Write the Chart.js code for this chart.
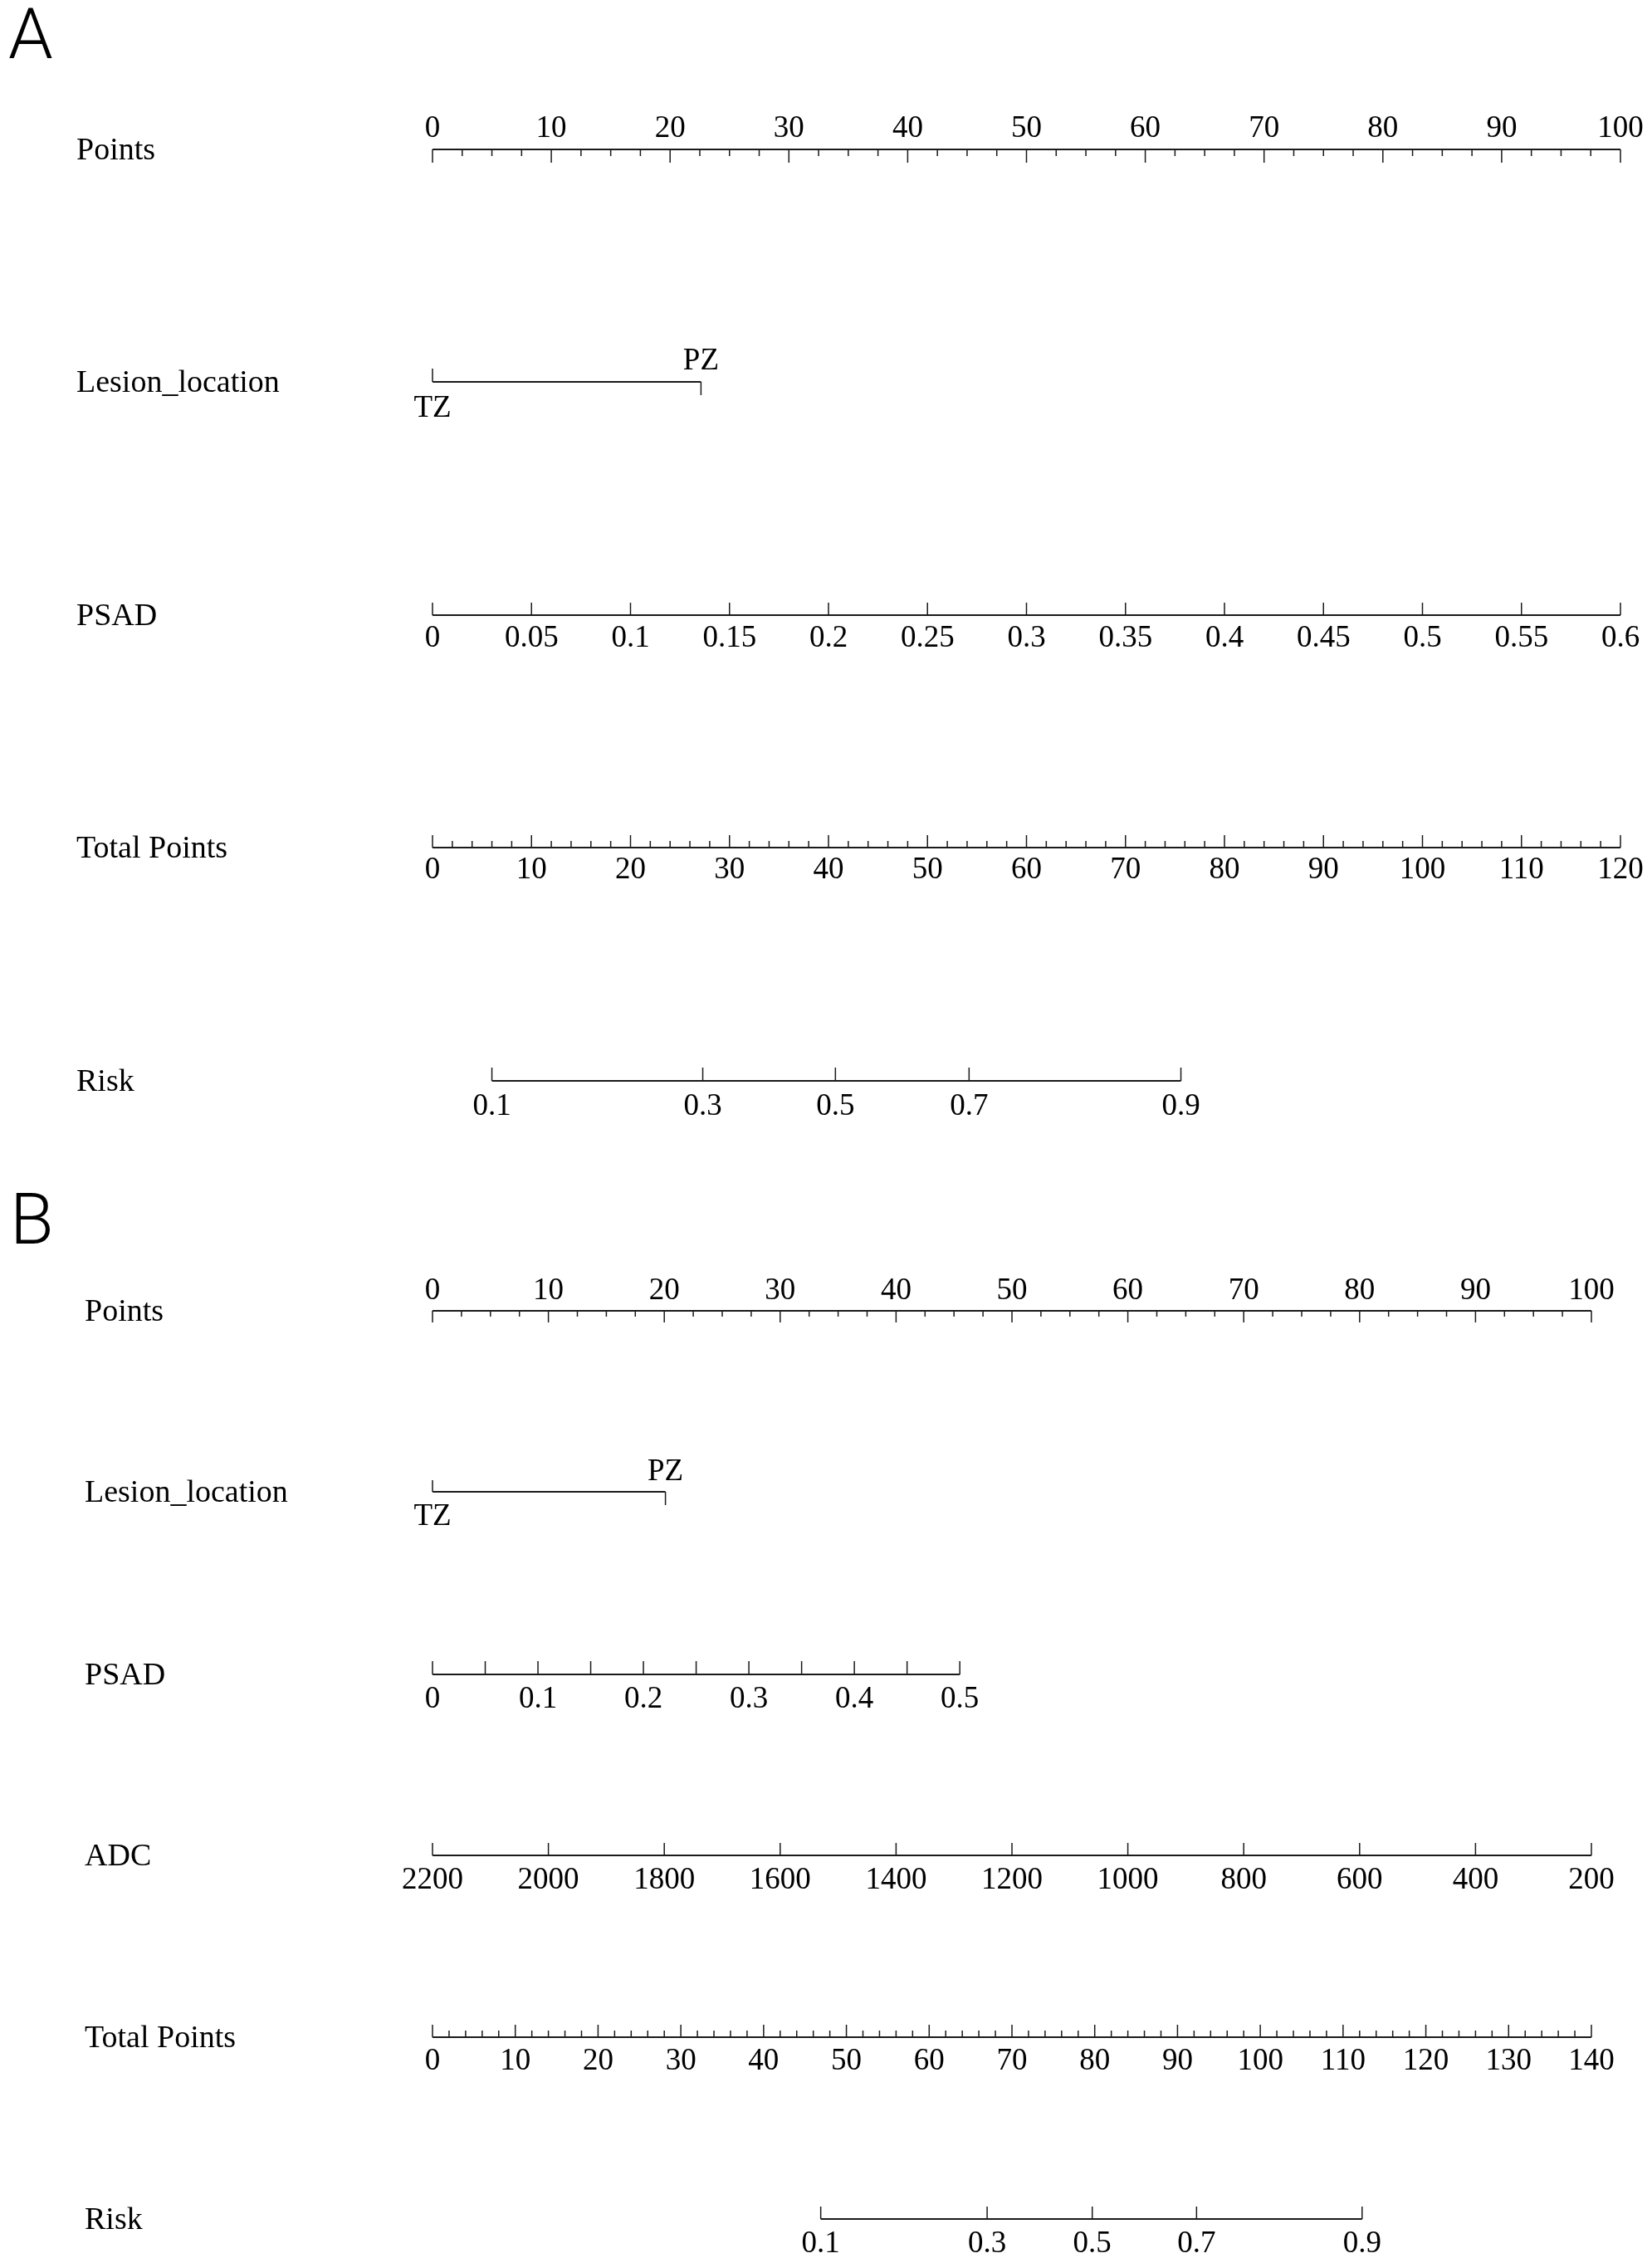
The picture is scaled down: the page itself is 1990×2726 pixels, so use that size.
<!DOCTYPE html>
<html lang="en">
<head>
    <meta charset="UTF-8">
    <title>Nomogram A / B</title>
    <style>
        body {
            margin: 0;
            padding: 0;
            background: #fff;
        }
        canvas {
            display: block;
        }
    </style>
    <script src="https://cdn.jsdelivr.net/npm/chart.js"></script>
</head>
<body>
    <canvas id="chartA" width="1990" height="1400"></canvas>
    <canvas id="chartB" width="1990" height="1326"></canvas>
    <script>
        // ---- panel A values ----
        const pointTicks = [0, 10, 20, 30, 40, 50, 60, 70, 80, 90, 100];
        const lesionLevels = ['TZ', 'PZ'];
        const lesionPointsA = [0, 22.6];
        const psadTicksA = [0, 0.05, 0.1, 0.15, 0.2, 0.25, 0.3, 0.35, 0.4, 0.45, 0.5, 0.55, 0.6];
        const psadMaxA = 0.6;          // PSAD value at the right end
        const psadMaxPointsA = 100;    // ...and its points
        const totalTicksA = [0, 10, 20, 30, 40, 50, 60, 70, 80, 90, 100, 110, 120];
        const riskTicks = [0.1, 0.3, 0.5, 0.7, 0.9];
        const riskTotalA = [6.0, 27.3, 40.7, 54.2, 75.6];   // total points where each risk sits

        // ---- panel B values ----
        const lesionPointsB = [0, 20.1];
        const psadTicksB = [0, 0.05, 0.1, 0.15, 0.2, 0.25, 0.3, 0.35, 0.4, 0.45, 0.5];
        const psadLabelsB = [0, 0.1, 0.2, 0.3, 0.4, 0.5];
        const psadMaxB = 0.5;
        const psadMaxPointsB = 45.5;
        const adcTicksB = [2200, 2000, 1800, 1600, 1400, 1200, 1000, 800, 600, 400, 200];
        const adcStart = 2200, adcEnd = 200;   // 0 points .. 100 points
        const totalTicksB = [0, 10, 20, 30, 40, 50, 60, 70, 80, 90, 100, 110, 120, 130, 140];
        const riskTotalB = [46.9, 67.0, 79.7, 92.3, 112.3];

        const SERIF = '"Liberation Serif", "Times New Roman", serif';
        const TICK_FONT = '37px ' + SERIF;
        const TITLE_FONT = '38px ' + SERIF;

        // minor ticks between majors (axis decoration only)
        function minors(max, step) {
            const out = [];
            for (let v = step; v < max; v += step) {
                if (Math.abs(v / 10 - Math.round(v / 10)) > 1e-6) out.push(v);
            }
            return out;
        }

        // rows: y = axis line (canvas px), ticks: p = points position, len = tick length (neg = up)
        function pointsRow(y, down, minorLen, labelDy) {
            const ticks = pointTicks.map(v => ({ p: v, len: down, label: String(v), dy: labelDy }));
            minors(100, 2.5).forEach(v => ticks.push({ p: v, len: minorLen }));
            return { title: 'Points', y: y, from: 0, to: 100, ticks: ticks };
        }

        function lesionRow(y, pts, up, down, belowDy, aboveDy) {
            return {
                title: 'Lesion_location', y: y, from: pts[0], to: pts[1],
                ticks: [
                    { p: pts[0], len: up, label: lesionLevels[0], dy: belowDy },
                    { p: pts[1], len: down, label: lesionLevels[1], dy: aboveDy }
                ]
            };
        }

        function totalRow(y, totals, maxTotal, majLen, minLen, labelDy) {
            const k = 100 / maxTotal;
            const ticks = totals.map(v => ({ p: v * k, len: majLen, label: String(v), dy: labelDy }));
            minors(maxTotal, 2).forEach(v => ticks.push({ p: v * k, len: minLen }));
            return { title: 'Total Points', y: y, from: 0, to: 100, ticks: ticks };
        }

        function riskRow(y, totals, maxTotal, len, labelDy) {
            const k = 100 / maxTotal;
            const ticks = riskTicks.map((r, i) => ({ p: totals[i] * k, len: len, label: String(r), dy: labelDy }));
            return { title: 'Risk', y: y, from: totals[0] * k, to: totals[totals.length - 1] * k, ticks: ticks };
        }

        const rowsA = [
            pointsRow(180, 16, 8, -15),
            lesionRow(460, lesionPointsA, -16, 16, 42, -15),
            {
                title: 'PSAD', y: 741, from: 0, to: psadMaxPointsA,
                ticks: psadTicksA.map(v => ({ p: v / psadMaxA * psadMaxPointsA, len: -15, label: String(v), dy: 38 }))
            },
            totalRow(1021, totalTicksA, 120, -15, -8, 37),
            riskRow(1302, riskTotalA, 120, -16, 41)
        ];

        const psadRowB = {
            title: 'PSAD', y: 617, from: 0, to: psadMaxPointsB,
            ticks: psadTicksB.map(v => {
                const t = { p: v / psadMaxB * psadMaxPointsB, len: -16 };
                if (psadLabelsB.includes(v)) { t.label = String(v); t.dy = 40; }
                return t;
            })
        };
        const adcRowB = {
            title: 'ADC', y: 835, from: 0, to: 100,
            ticks: adcTicksB.map(v => ({ p: (adcStart - v) / (adcStart - adcEnd) * 100, len: -15, label: String(v), dy: 40 }))
        };

        const rowsB = [
            pointsRow(179, 14, 7, -14),
            lesionRow(397, lesionPointsB, -14, 16, 40, -14),
            psadRowB,
            adcRowB,
            totalRow(1054, totalTicksB, 140, -15, -8, 39),
            riskRow(1273, riskTotalB, 140, -15, 40)
        ];

        function makeChart(id, rows, rightPad, titleX, letter) {
            const canvas = document.getElementById(id);
            const H = canvas.height;
            const datasets = [];
            rows.forEach(r => {
                datasets.push({
                    data: [{ x: r.from, y: r.y }, { x: r.to, y: r.y }],
                    borderWidth: 2
                });
                const segs = [];
                r.ticks.forEach(t => {
                    segs.push({ x: t.p, y: r.y }, { x: t.p, y: r.y + t.len }, { x: t.p, y: null });
                });
                datasets.push({ data: segs, borderWidth: 1.5 });
            });
            datasets.forEach(d => {
                d.showLine = true;
                d.spanGaps = false;
                d.borderColor = '#1a1a1a';
                d.pointRadius = 0;
                d.clip = false;
                d.borderCapStyle = 'butt';
            });

            const textPlugin = {
                id: 'nomoText',
                afterDatasetsDraw(chart) {
                    const ctx = chart.ctx;
                    const xs = chart.scales.x, ys = chart.scales.y;
                    ctx.save();
                    ctx.fillStyle = '#000';
                    ctx.textBaseline = 'alphabetic';
                    rows.forEach(r => {
                        const yPix = ys.getPixelForValue(r.y);
                        ctx.font = TITLE_FONT;
                        ctx.textAlign = 'left';
                        ctx.fillText(r.title, titleX, yPix + 12);
                        ctx.font = TICK_FONT;
                        ctx.textAlign = 'center';
                        r.ticks.forEach(t => {
                            if (t.label === undefined) return;
                            ctx.fillText(t.label, xs.getPixelForValue(t.p), yPix + t.dy);
                        });
                    });
                    ctx.font = '300 86px Roboto, "DejaVu Sans", sans-serif';
                    ctx.textAlign = 'left';
                    ctx.fillText(letter.text, letter.x, letter.y);
                    ctx.restore();
                }
            };

            return new Chart(canvas, {
                type: 'scatter',
                data: { datasets: datasets },
                options: {
                    responsive: false,
                    animation: false,
                    devicePixelRatio: 1,
                    layout: { padding: { left: 521, right: rightPad, top: 0, bottom: 0 } },
                    scales: {
                        x: { type: 'linear', min: 0, max: 100, display: false },
                        y: { type: 'linear', min: 0, max: H, reverse: true, display: false }
                    },
                    plugins: { legend: { display: false }, tooltip: { enabled: false } }
                },
                plugins: [textPlugin]
            });
        }

        makeChart('chartA', rowsA, 38, 92, { text: 'A', x: 10, y: 70 });
        makeChart('chartB', rowsB, 73, 102, { text: 'B', x: 12, y: 98 });
    </script>
</body>
</html>
